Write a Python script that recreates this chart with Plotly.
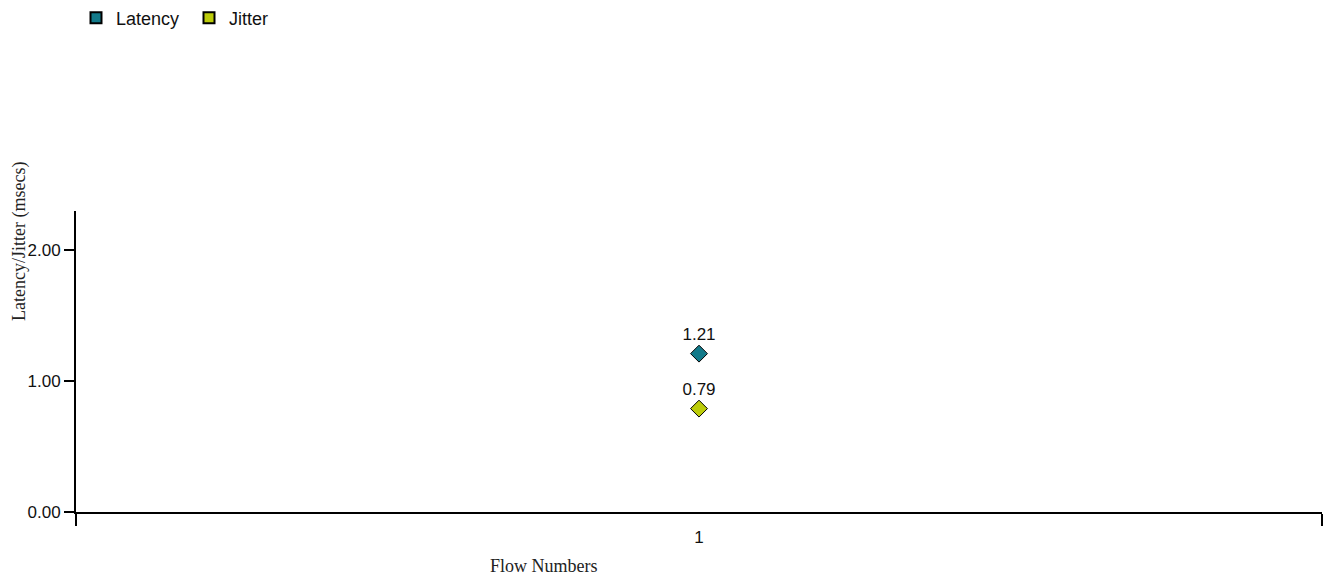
import plotly.graph_objects as go

flows = ["1"]
latency = [1.21]
jitter = [0.79]
series_names = ["Latency", "Jitter"]
colors = ["#127A8A", "#BCCC0A"]
y_ticks = [0, 1, 2]
y_tick_labels = ["0.00", "1.00", "2.00"]

W, H = 1334, 579
L, T, R, B = 76, 211, 12, 67
pw, ph = W - L - R, H - T - B

def px_x(x):
    return (x - L) / pw

def px_y(y):
    return (H - B - y) / ph

fig = go.Figure()
for name, vals, col in zip(series_names, [latency, jitter], colors):
    fig.add_trace(go.Scatter(
        x=flows, y=vals, mode="markers+text", name=name, showlegend=False,
        text=[f"{v:.2f}" for v in vals], textposition="top center",
        textfont=dict(family="Liberation Sans, Arial", size=17, color="#111"),
        marker=dict(symbol="diamond", size=13, color=col, line=dict(color="#000", width=1)),
        cliponaxis=False,
    ))
    fig.add_trace(go.Scatter(
        x=[None], y=[None], mode="markers", name=name, showlegend=True,
        marker=dict(symbol="square", size=11, color=col, line=dict(color="#000", width=2)),
    ))

fig.update_layout(
    width=W, height=H,
    margin=dict(l=L, r=R, t=T, b=B, autoexpand=False),
    plot_bgcolor="white", paper_bgcolor="white",
    font=dict(family="Liberation Sans, Arial", size=17, color="#111"),
    legend=dict(orientation="h", x=px_x(76), y=px_y(18),
                xref="paper", yref="paper",
                xanchor="left", yanchor="middle", font=dict(size=18, color="#111"),
                entrywidth=68, itemwidth=30, tracegroupgap=0),
    showlegend=True,
)
fig.update_xaxes(
    type="category", range=[-0.5, 0.5], showline=True, linecolor="#000", linewidth=2,
    ticks="outside", tickson="boundaries", ticklen=12, tickwidth=2, tickcolor="#000",
    ticklabelstandoff=9,
    showgrid=False, zeroline=False, tickfont=dict(size=17, color="#111"),
)
fig.update_yaxes(
    range=[0, 2.3], showline=True, linecolor="#000", linewidth=2,
    tickvals=y_ticks, ticktext=y_tick_labels,
    ticks="outside", ticklen=10, tickwidth=2, tickcolor="#000",
    showgrid=False, zeroline=False, tickfont=dict(size=17, color="#111"),
)
fig.add_annotation(text="Latency/Jitter (msecs)", xref="paper", yref="paper",
                   x=px_x(19), y=px_y(242),
                   xanchor="center", yanchor="middle",
                   textangle=-90, showarrow=False,
                   font=dict(family="Liberation Serif, Times New Roman", size=18, color="#222"))
fig.add_annotation(text="Flow Numbers", xref="paper", yref="paper",
                   x=px_x(544), y=px_y(566),
                   xanchor="center", yanchor="middle", showarrow=False,
                   font=dict(family="Liberation Serif, Times New Roman", size=18, color="#222"))

fig.write_html("out.html", config={"displayModeBar": False},
               post_script="document.body.style.margin='0px';")
